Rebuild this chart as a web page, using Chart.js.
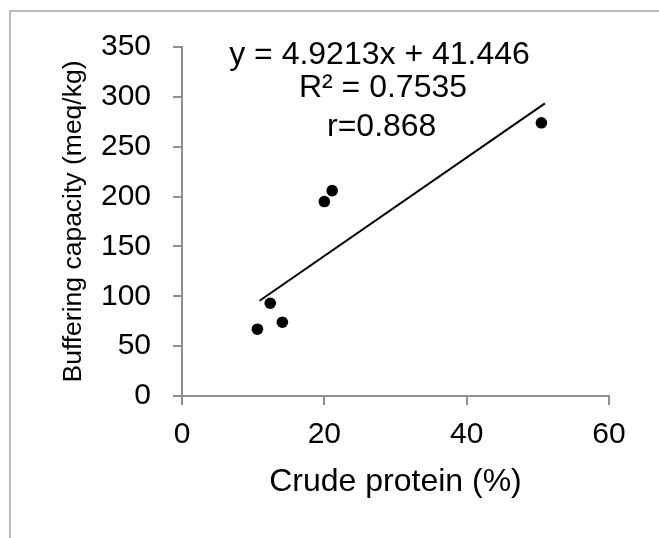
<!DOCTYPE html>
<html>
<head>
<meta charset="utf-8">
<script src="https://cdn.jsdelivr.net/npm/chart.js@4/dist/chart.umd.min.js"></script>
<style>
  html, body { margin: 0; padding: 0; background: #ffffff; }
  #wrap { position: relative; width: 659px; height: 538px; }
</style>
</head>
<body>
<div id="wrap"><canvas id="c" width="659" height="538"></canvas></div>
<script>
// Data
const crudeProtein = [10.6, 12.4, 14.1, 20.0, 21.1, 50.5];
const bufferingCapacity = [67, 93, 74, 195, 206, 274];
// Trendline end points (Excel linear trendline)
const trendX = [10.9, 51.0];
const trendY = [95.5, 293.5];
const equationLines = ['y = 4.9213x + 41.446', 'R\u00B2 = 0.7535', 'r=0.868'];
const xTicks = [0, 20, 40, 60];
const yTicks = [0, 50, 100, 150, 200, 250, 300, 350];
const xTitle = 'Crude protein (%)';
const yTitle = 'Buffering capacity (meq/kg)';

const FONT = "'Liberation Sans', Arial, sans-serif";
const AXIS_COLOR = '#8f8f8f';

const scatterData = crudeProtein.map((x, i) => ({ x: x, y: bufferingCapacity[i] }));
const trendData = trendX.map((x, i) => ({ x: x, y: trendY[i] }));

const framePlugin = {
  id: 'frame',
  beforeDraw(chart) {
    const ctx = chart.ctx;
    ctx.save();
    ctx.fillStyle = '#ffffff';
    ctx.fillRect(0, 0, chart.width, chart.height);
    ctx.strokeStyle = '#a8a8a8';
    ctx.lineWidth = 1.5;
    ctx.beginPath();
    ctx.moveTo(10, chart.height);
    ctx.lineTo(10, 11);
    ctx.lineTo(chart.width, 11);
    ctx.stroke();
    ctx.restore();
  }
};

const equationPlugin = {
  id: 'equation',
  afterDraw(chart) {
    const ctx = chart.ctx;
    const a = chart.chartArea;
    ctx.save();
    ctx.fillStyle = '#000000';
    ctx.font = '32px ' + FONT;
    ctx.textAlign = 'center';
    ctx.textBaseline = 'alphabetic';
    const offs = [
      { dx: 197.5, dy: 16.5 },
      { dx: 201, dy: 50 },
      { dx: 199.7, dy: 89 }
    ];
    equationLines.forEach((t, i) => {
      ctx.fillText(t, a.left + offs[i].dx, a.top + offs[i].dy);
    });
    ctx.restore();
  }
};

new Chart(document.getElementById('c'), {
  type: 'scatter',
  data: {
    datasets: [
      {
        label: 'data',
        data: scatterData,
        backgroundColor: '#000000',
        borderColor: '#000000',
        borderWidth: 0,
        pointRadius: 5.8,
        pointHoverRadius: 5.8,
        order: 1
      },
      {
        label: 'trend',
        data: trendData,
        showLine: true,
        borderColor: '#000000',
        borderWidth: 2,
        pointRadius: 0,
        fill: false,
        order: 2
      }
    ]
  },
  options: {
    responsive: false,
    animation: false,
    devicePixelRatio: 1,
    layout: { padding: { left: 0, right: 50, top: 47, bottom: 0 } },
    plugins: {
      legend: { display: false },
      tooltip: { enabled: false },
      title: { display: false }
    },
    scales: {
      x: {
        type: 'linear',
        min: 0,
        max: 60,
        afterBuildTicks(scale) { scale.ticks = xTicks.map(v => ({ value: v })); },
        afterFit(scale) { scale.height = 142; },
        grid: { display: true, drawOnChartArea: false, drawTicks: true, tickLength: 9, color: AXIS_COLOR, lineWidth: 2 },
        border: { display: true, color: AXIS_COLOR, width: 2 },
        ticks: { color: '#000000', font: { family: FONT, size: 30 }, padding: 12, maxRotation: 0 },
        title: { display: true, text: xTitle, color: '#000000', font: { family: FONT, size: 32 }, padding: { top: 0, bottom: 37 } }
      },
      y: {
        type: 'linear',
        min: 0,
        max: 350,
        afterBuildTicks(scale) { scale.ticks = yTicks.map(v => ({ value: v })); },
        afterFit(scale) { scale.width = 182; },
        grid: { display: true, drawOnChartArea: false, drawTicks: true, tickLength: 9, color: AXIS_COLOR, lineWidth: 2 },
        border: { display: true, color: AXIS_COLOR, width: 2 },
        ticks: { color: '#000000', font: { family: FONT, size: 30 }, padding: 22 },
        title: { display: true, text: yTitle, color: '#000000', font: { family: FONT, size: 26.5 }, padding: { top: 58, bottom: 0 } }
      }
    }
  },
  plugins: [framePlugin, equationPlugin]
});
</script>
</body>
</html>
